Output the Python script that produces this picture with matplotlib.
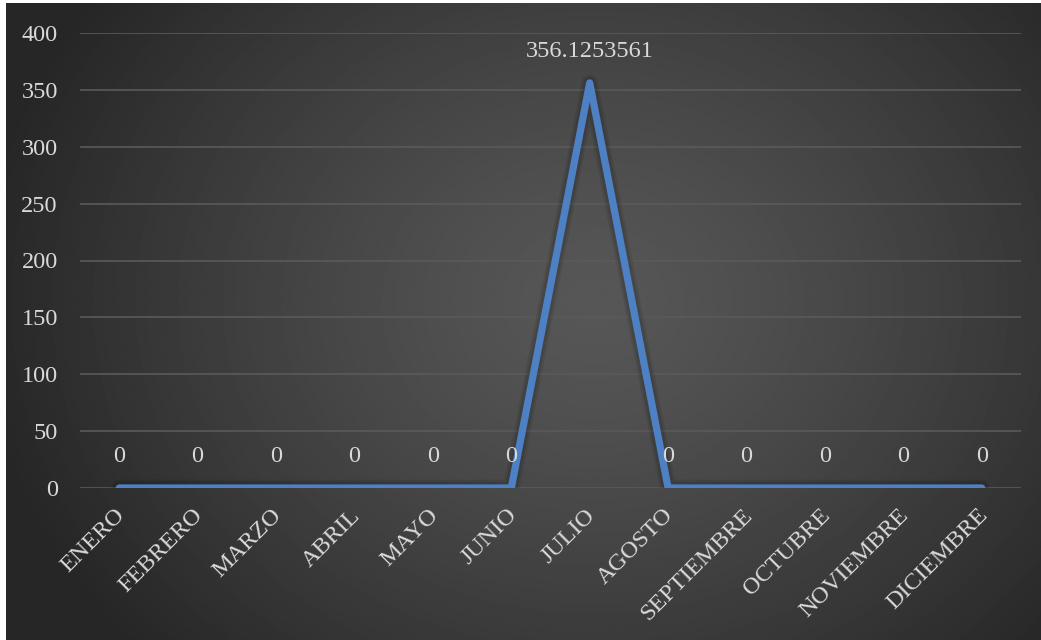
import numpy as np
import matplotlib.pyplot as plt
import matplotlib.patheffects as pe
import matplotlib.transforms as mtransforms

meses = ['ENERO', 'FEBRERO', 'MARZO', 'ABRIL', 'MAYO', 'JUNIO', 'JULIO',
         'AGOSTO', 'SEPTIEMBRE', 'OCTUBRE', 'NOVIEMBRE', 'DICIEMBRE']
valores = [0, 0, 0, 0, 0, 0, 356.1253561, 0, 0, 0, 0, 0]
etiquetas = ['0', '0', '0', '0', '0', '0', '356.1253561', '0', '0', '0', '0', '0']

plt.rcParams['font.family'] = ['Liberation Serif', 'DejaVu Serif']
txt = '#d9d9d9'

W, H = 1041, 640
fig = plt.figure(figsize=(W / 100, H / 100), dpi=100)
fig.patch.set_facecolor('white')

# fondo con degradado radial
bg = fig.add_axes([6 / W, 0, 1 - 6 / W, 1 - 3 / H])
yy, xx = np.mgrid[0:H, 0:W]
r = np.sqrt(((xx - 590) / 620.0) ** 2 + ((yy - 300) / 520.0) ** 2)
r = np.clip(r, 0, 1)
c = 0.34 - 0.19 * r ** 1.3
bg.imshow(c, cmap='gray', vmin=0, vmax=1, aspect='auto', interpolation='bilinear')
bg.set_axis_off()

ax = fig.add_axes([80 / W, 1 - 488 / H, 941 / W, 455 / H])
ax.patch.set_alpha(0)
x = np.arange(len(meses))
ax.plot(x, valores, color='#4e80c4', lw=5.2, solid_capstyle='round',
        solid_joinstyle='round', zorder=3,
        path_effects=[pe.SimpleLineShadow(offset=(0, 0), shadow_color='black', alpha=0.08, linewidth=12),
                      pe.SimpleLineShadow(offset=(0, 0), shadow_color='black', alpha=0.1, linewidth=9),
                      pe.Normal()])
for xi, v, lab in zip(x, valores, etiquetas):
    ax.annotate(lab, (xi, v), xytext=(0, 15), textcoords='offset points',
                ha='center', va='bottom', color=txt, fontsize=17.5)

ax.set_xlim(-0.5, 11.5)
ax.set_ylim(0, 400)
ax.set_yticks(range(0, 401, 50))
ax.grid(axis='y', color='#5a5a5a', lw=1.2)
ax.set_axisbelow(True)
for s in ax.spines.values():
    s.set_visible(False)
ax.tick_params(length=0, colors=txt, labelsize=17.5)
ax.tick_params(axis='y', pad=16)
ax.set_xticks(x)
ax.set_xticklabels(meses, rotation=45, ha='right', va='top', rotation_mode='anchor')
for t in ax.get_xticklabels():
    t.set_transform(t.get_transform() + mtransforms.ScaledTranslation(-0.05, -0.12, fig.dpi_scale_trans))

fig.savefig('out.png', dpi=100, facecolor=fig.get_facecolor())
